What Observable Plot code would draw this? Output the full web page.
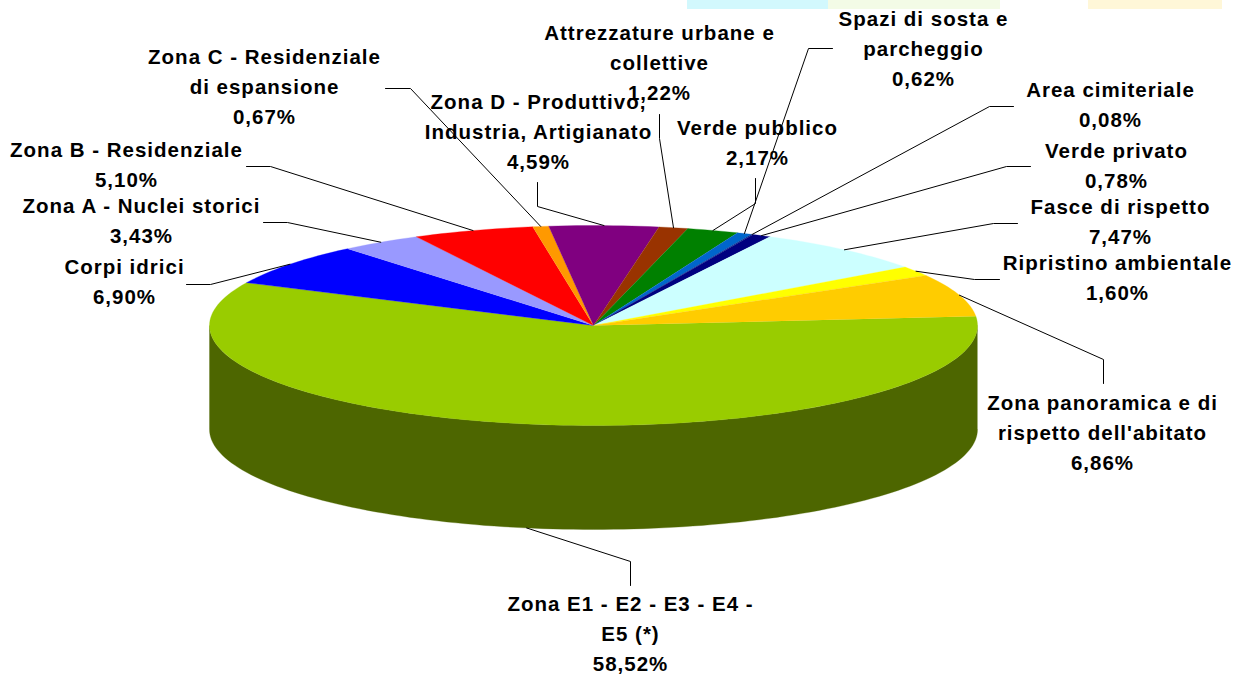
<!DOCTYPE html>
<html>
<head>
<meta charset="utf-8">
<script src="https://cdn.jsdelivr.net/npm/d3@7"></script>
<script src="https://cdn.jsdelivr.net/npm/@observablehq/plot@0.6"></script>
<style>
html,body{margin:0;padding:0;background:#fff;}
svg{display:block;}
</style>
</head>
<body>
<div id="chart"></div>
<script>
// Data, in drawing order (clockwise on screen, starting at the large slice)
const names = ["Zona E1 - E2 - E3 - E4 - E5 (*)","Corpi idrici","Zona A - Nuclei storici","Zona B - Residenziale","Zona C - Residenziale di espansione","Zona D - Produttivo, Industria, Artigianato","Attrezzature urbane e collettive","Verde pubblico","Spazi di sosta e parcheggio","Area cimiteriale","Verde privato","Fasce di rispetto","Ripristino ambientale","Zona panoramica e di rispetto dell'abitato"];
const values = [58.52,6.90,3.43,5.10,0.67,4.59,1.22,2.17,0.62,0.08,0.78,7.47,1.60,6.86];
const colors = ["#99cc00","#0000ff","#9999ff","#ff0000","#ff9900","#800080","#993300","#008000","#0066cc","#003399","#000080","#ccffff","#ffff00","#ffcc00"];
const labelLines = [["Zona E1 - E2 - E3 - E4 -","E5 (*)"],["Corpi idrici"],["Zona A - Nuclei storici"],["Zona B - Residenziale"],["Zona C - Residenziale","di espansione"],["Zona D - Produttivo,","Industria, Artigianato"],["Attrezzature urbane e","collettive"],["Verde pubblico"],["Spazi di sosta e","parcheggio"],["Area cimiteriale"],["Verde privato"],["Fasce di rispetto"],["Ripristino ambientale"],["Zona panoramica e di","rispetto dell'abitato"]];

// Layout (pixels): label centres and leader elbows, same order as names
const labelX = [630,124,141,126,264,538,659,757,923,1110,1116,1120,1117,1102];
const labelY = [634,282,221,165,87,132,63,143,49,105,166,222,278,433];
const leaderOuter = [[630,585],[186,284],[263,222],[246,166],[385,88],[537,182],[659,114],[755,178],[832,48],[1013,106],[1030,166],[1017,223],[999,279],[1103,383]];
const leaderElbow = [[630,561],[210,284],[287,222],[270,166],[410,88],[537,206],[659,138],[755,203],[808,48],[989,106],[1006,166],[993,223],[974,279],[1103,359]];

const cx = 593, cy = 325, rx = 384, ry = 100, depth = 104, startDeg = -5.3;
const wallColor = "#4d6600";

// Faint remnants of a picture along the top edge
const stripNames = ["strip A","strip B","strip C"];
const stripX1 = [687,828,1088];
const stripX2 = [828,1000,1222];
const stripColors = ["#d2f8fd","#f3fbe6","#fff7d8"];

const rim = (deg, dy = 0) => {
  const t = deg * Math.PI / 180;
  return [cx + rx * Math.cos(t), cy + dy + ry * Math.sin(t)];
};

const total = d3.sum(values);
let acc = startDeg;
const slices = names.map((name, i) => {
  const a0 = acc, a1 = acc + values[i] / total * 360;
  acc = a1;
  return {name, a0, a1, mid: (a0 + a1) / 2, i};
});

const slicePts = slices.flatMap(s => {
  const n = Math.max(2, Math.ceil((s.a1 - s.a0) / 1.5));
  const pts = [{name: s.name, p: [cx, cy]}];
  for (let k = 0; k <= n; k++) pts.push({name: s.name, p: rim(s.a0 + (s.a1 - s.a0) * k / n)});
  return pts;
});

const wallPts = [];
for (let d = 0; d <= 180; d += 1.5) wallPts.push(rim(d));
for (let d = 180; d >= 0; d -= 1.5) wallPts.push(rim(d, depth));

const leaderPts = slices.flatMap(s => {
  const isFront = s.mid > 0 && s.mid < 180;
  return [leaderOuter[s.i], leaderElbow[s.i], rim(s.mid, isFront ? depth : 0)].map(p => ({name: s.name, p}));
});

const labels = slices.map(s => ({
  x: labelX[s.i], y: labelY[s.i] - 3,
  text: [...labelLines[s.i], values[s.i].toFixed(2).replace(".", ",") + "%"].join("\n")
}));

const chart = Plot.plot({
  width: 1236, height: 675, margin: 0,
  x: {domain: [0, 1236], range: [0, 1236], axis: null},
  y: {domain: [0, 675], range: [0, 675], axis: null},
  color: {domain: [...names, ...stripNames], range: [...colors, ...stripColors]},
  style: {background: "#fff", fontFamily: "'Liberation Sans', Arial, sans-serif", letterSpacing: "1px"},
  marks: [
    Plot.rect(stripNames, {x1: (d, i) => stripX1[i], x2: (d, i) => stripX2[i], y1: () => 0, y2: () => 9, fill: d => d}),
    Plot.line(wallPts, {x: d => d[0], y: d => d[1], fill: wallColor, stroke: wallColor, strokeWidth: 0.3}),
    Plot.line(slicePts, {x: d => d.p[0], y: d => d.p[1], z: "name", fill: "name", stroke: "name", strokeWidth: 0.3}),
    Plot.line(leaderPts, {x: d => d.p[0], y: d => d.p[1], z: "name", stroke: "#000", strokeWidth: 1}),
    Plot.text(labels, {x: "x", y: "y", text: "text", fontSize: 20.5, fontWeight: "bold", fill: "#000", lineHeight: 1.46, textAnchor: "middle", lineAnchor: "middle"})
  ]
});
document.getElementById("chart").appendChild(chart);
</script>
</body>
</html>
